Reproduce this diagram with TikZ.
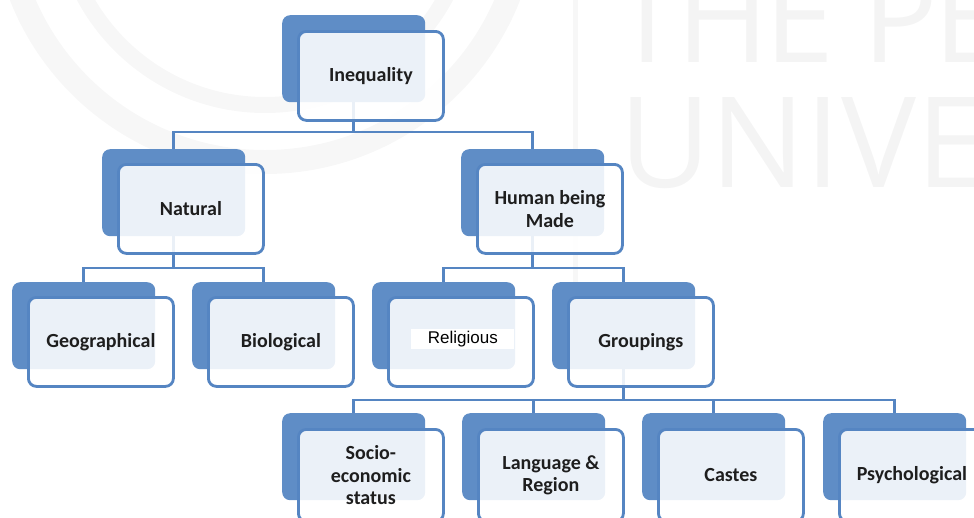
\documentclass[tikz,border=0pt]{standalone}
\usepackage{fontspec}
\setmainfont{Carlito}
\newfontfamily\arialf{Liberation Sans}
\newfontfamily\wmfont{Open Sans}
\newfontfamily\wmfontn[LetterSpace=-4]{Open Sans}
\definecolor{backblue}{HTML}{5F8DC6}
\definecolor{lineblue}{HTML}{5585C2}
\definecolor{txt}{HTML}{1E1E1E}
\definecolor{wmgray}{HTML}{F4F4F4}
\definecolor{wmring}{HTML}{F7F7F7}
\begin{document}
\begin{tikzpicture}[x=1pt,y=-1pt,
  backbox/.style={draw=none, fill=backblue, rounded corners=8pt,
    minimum width=143pt, minimum height=87pt, anchor=north west, inner sep=0pt},
  frontbox/.style={draw=lineblue, line width=2.8pt, fill=white, fill opacity=0.88,
    text opacity=1, rounded corners=8pt, minimum width=145pt, minimum height=89pt,
    anchor=north west, inner sep=0pt, text=txt, align=center,
    font=\bfseries\fontsize{20}{22.5}\selectfont},
  conn/.style={draw=lineblue, line width=2.8pt},
  wmark/.style={draw=wmring}]
\useasboundingbox (0,0) rectangle (974,517);
% watermark
\begin{scope}
\clip (0,0) rectangle (974,517);
\draw[wmark, line width=24pt] (265,-100) circle (262);
\draw[wmark, line width=16pt] (265,-100) circle (205);
\draw[wmark, line width=5pt] (575,0) -- (575,285);
\node[anchor=base west, inner sep=0pt, text=wmgray, font=\wmfontn\fontsize{126}{126}\selectfont] (wm1) at (612,62) {THE PE};
\node[anchor=base west, inner sep=0pt, text=wmgray, font=\wmfont\fontsize{126}{126}\selectfont] (wm2) at (619,187) {UNIVE};
\end{scope}
% back boxes
\node[backbox] (ineqB) at (282,15) {};
\node[backbox] (natB) at (102,149) {};
\node[backbox] (humB) at (461,149) {};
\node[backbox] (geoB) at (12,282) {};
\node[backbox] (bioB) at (192,282) {};
\node[backbox] (relB) at (372,282) {};
\node[backbox] (grpB) at (552,282) {};
\node[backbox] (socB) at (282,413) {};
\node[backbox] (lanB) at (462,413) {};
\node[backbox] (casB) at (642,413) {};
\node[backbox] (psyB) at (823,413) {};
% bus levels
\coordinate (bus1) at (0,132);
\coordinate (bus2) at (0,268);
\coordinate (bus3) at (0,400);
% connectors
\draw[conn] (ineqB.south) -- (ineqB.south |- bus1) -| (natB.north);
\draw[conn] (ineqB.south) -- (ineqB.south |- bus1) -| (humB.north);
\draw[conn] (natB.south) -- (natB.south |- bus2) -| (geoB.north);
\draw[conn] (natB.south) -- (natB.south |- bus2) -| (bioB.north);
\draw[conn] (humB.south) -- (humB.south |- bus2) -| (relB.north);
\draw[conn] (humB.south) -- (humB.south |- bus2) -| (grpB.north);
\draw[conn] (grpB.south) -- (grpB.south |- bus3) -| (socB.north);
\draw[conn] (grpB.south) -- (grpB.south |- bus3) -| (lanB.north);
\draw[conn] (grpB.south) -- (grpB.south |- bus3) -| (casB.north);
\draw[conn] (grpB.south) -- (grpB.south |- bus3) -| (psyB.north);
% front boxes
\node[frontbox] (ineq) at (297,30) {Inequality};
\node[frontbox] (nat) at (117,163) {Natural};
\node[frontbox] (hum) at (476,163) {Human being\\Made};
\node[frontbox] (geo) at (27,296) {Geographical};
\node[frontbox] (bio) at (207,296) {Biological};
\node[frontbox] (rel) at (387,296) {};
\node[frontbox] (grp) at (567,296) {Groupings};
\node[frontbox, minimum height=92pt] (soc) at (297,428) {Socio-\\economic\\status};
\node[frontbox, minimum height=92pt] (lan) at (477,428) {Language \&\\Region};
\node[frontbox, minimum height=92pt] (cas) at (657,428) {Castes};
\node[frontbox, minimum height=92pt] (psy) at (838,428) {Psychological};
% label with its own white box
\node[fill=white, inner sep=0pt, minimum width=103pt, minimum height=20pt,
  font=\arialf\fontsize{17}{20}\selectfont, text=black] (relT) at ([xshift=2pt,yshift=3pt]rel.center) {Religious};
\end{tikzpicture}
\end{document}
